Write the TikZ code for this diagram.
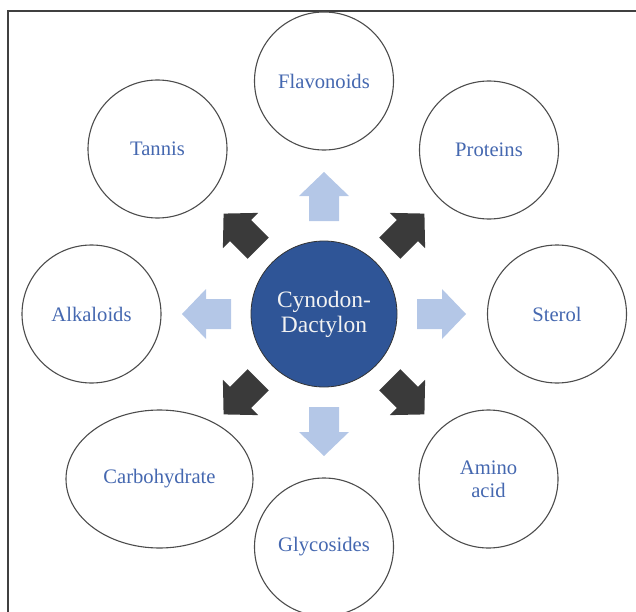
\documentclass[tikz,border=0pt]{standalone}
\usepackage{fontspec}
\setmainfont{Liberation Serif}
\usetikzlibrary{shapes.geometric}
\definecolor{txtblue}{HTML}{4568B0}
\definecolor{hubblue}{HTML}{2F5597}
\definecolor{lightarrow}{HTML}{B4C7E7}
\definecolor{darkarrow}{HTML}{3A3A3A}
\definecolor{framegray}{HTML}{404040}
\tikzset{
  ell/.style={ellipse, draw=black!70, line width=1.1bp, fill=white, inner sep=0pt,
    minimum width=139bp, minimum height=138bp, text=txtblue, align=center,
    font=\fontsize{20.6bp}{23bp}\selectfont},
  hub/.style={circle, draw=black!80, line width=0.8bp, fill=hubblue, inner sep=0pt,
    minimum size=146bp, text=white!95!black, align=center,
    font=\fontsize{23.5bp}{25bp}\selectfont},
  pics/blockarrow/.style={code={
    \fill[#1] (93,-15) -- (118,-15) -- (118,-25) -- (142,0) -- (118,25) -- (118,15) -- (93,15) -- cycle;
  }}
}
\begin{document}
\begin{tikzpicture}[x=1bp,y=-1bp]
\useasboundingbox (0,0) rectangle (636,612);
\clip (0,0) rectangle (636,612);
\draw[framegray, line width=1.5bp] (636,11) -- (8,11) -- (8,612);

\node[hub] (hub) at (324,314) {Cynodon-\\Dactylon};

\node[ell] (fla) at (324,81) {Flavonoids};
\node[ell] (tan) at (157.5,149) {Tannis};
\node[ell] (pro) at (489,150) {Proteins};
\node[ell] (alk) at (91.5,314) {Alkaloids};
\node[ell] (ste) at (557,314) {Sterol};
\node[ell, minimum width=187bp] (car) at (159.5,479) {Carbohydrate};
\node[ell] (ami) at (488.5,479) {Amino\\acid};
\node[ell] (gly) at (324,547) {Glycosides};

\pic[shift={(hub.center)}, rotate=90] (aup) {blockarrow=lightarrow};
\pic[shift={(hub.center)}, rotate=0] (art) {blockarrow=lightarrow};
\pic[shift={(hub.center)}, rotate=180] (alf) {blockarrow=lightarrow};
\pic[shift={(hub.center)}, rotate=-90] (adn) {blockarrow=lightarrow};
\pic[shift={(hub.center)}, rotate=45] (aur) {blockarrow=darkarrow};
\pic[shift={(hub.center)}, rotate=135] (aul) {blockarrow=darkarrow};
\pic[shift={(hub.center)}, rotate=-45] (adr) {blockarrow=darkarrow};
\pic[shift={(hub.center)}, rotate=-135] (adl) {blockarrow=darkarrow};
\end{tikzpicture}
\end{document}
